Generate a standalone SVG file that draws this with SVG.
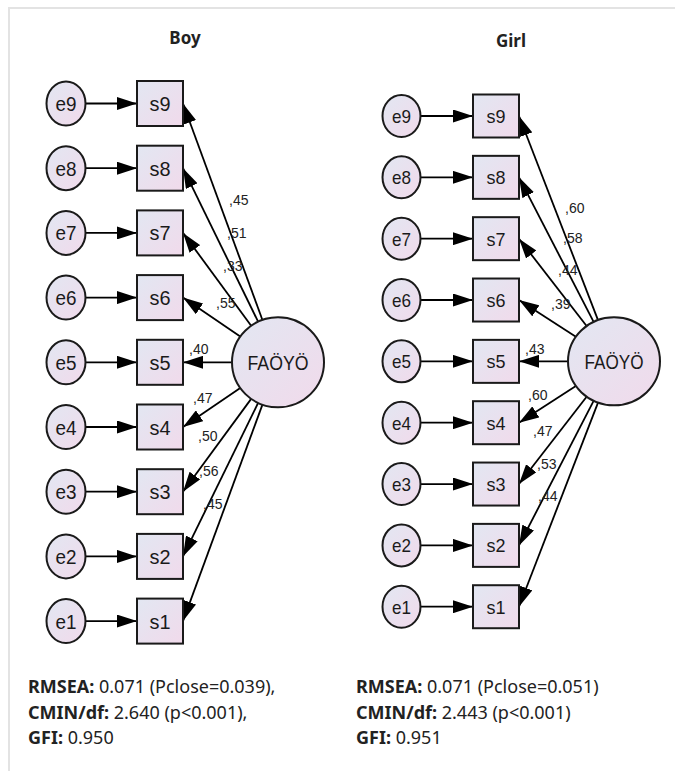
<svg xmlns="http://www.w3.org/2000/svg" width="675" height="771" viewBox="0 0 675 771">
<defs>
<linearGradient id="g" x1="0" y1="0" x2="1" y2="1">
<stop offset="0" stop-color="#E2E7F2"/>
<stop offset="1" stop-color="#F1DAEB"/>
</linearGradient>
<marker id="ah" markerUnits="userSpaceOnUse" markerWidth="20" markerHeight="13" refX="20" refY="6.5" orient="auto" viewBox="0 0 20 13">
<path d="M0,0 L20,6.5 L0,13 z" fill="#000"/>
</marker>
<style>
.n{fill:url(#g);stroke:#1a1a1a;stroke-width:2}
.t{font-family:"Liberation Sans",Arial,sans-serif;font-size:20px;fill:#1a1a1a;text-anchor:middle}
.u{font-family:"Liberation Sans",Arial,sans-serif;font-size:19px;fill:#1a1a1a;text-anchor:middle}
.f{font-family:"Liberation Sans",Arial,sans-serif;font-size:21px;fill:#1a1a1a;text-anchor:middle}
.c line{stroke:#000;stroke-width:1.8;marker-end:url(#ah)}
.l{font-family:"Liberation Sans",Arial,sans-serif;font-size:14px;fill:#222}
.h{font-family:"Noto Sans","Open Sans",sans-serif;font-size:17px;font-weight:bold;fill:#222;text-anchor:middle}
.s{font-family:"Noto Sans","Open Sans",sans-serif;font-size:18px;fill:#222}
.s tspan.b{font-weight:bold}
</style>
</defs>
<rect width="675" height="771" fill="#fff"/>
<path d="M9,771 V8 H675" fill="none" stroke="#e3e3e3" stroke-width="2"/>

<text class="h" x="185" y="44">Boy</text>
<text class="h" x="511" y="47">Girl</text>

<!-- Boy connectors -->
<g id="boy-connectors" class="c">
<line x1="85.5" y1="103.5" x2="137" y2="103.5"/>
<line x1="85.5" y1="168.2" x2="137" y2="168.2"/>
<line x1="85.5" y1="232.9" x2="137" y2="232.9"/>
<line x1="85.5" y1="297.6" x2="137" y2="297.6"/>
<line x1="85.5" y1="362.3" x2="137" y2="362.3"/>
<line x1="85.5" y1="427" x2="137" y2="427"/>
<line x1="85.5" y1="491.7" x2="137" y2="491.7"/>
<line x1="85.5" y1="556.4" x2="137" y2="556.4"/>
<line x1="85.5" y1="621.1" x2="137" y2="621.1"/>
<line x1="262.45" y1="319.95" x2="183" y2="103.5"/>
<line x1="258.13" y1="321.71" x2="183" y2="168.2"/>
<line x1="251.16" y1="325.74" x2="183" y2="232.9"/>
<line x1="240.24" y1="336.59" x2="183" y2="297.6"/>
<line x1="232" y1="362.3" x2="183" y2="362.3"/>
<line x1="240.24" y1="388.01" x2="183" y2="427"/>
<line x1="251.16" y1="398.86" x2="183" y2="491.7"/>
<line x1="258.13" y1="402.89" x2="183" y2="556.4"/>
<line x1="262.45" y1="404.65" x2="183" y2="621.1"/>
</g>

<g id="boy-labels">
<text class="l" x="229" y="205">,45</text>
<text class="l" x="227" y="238">,51</text>
<text class="l" x="223" y="271">,33</text>
<text class="l" x="216" y="308">,55</text>
<text class="l" x="189" y="354">,40</text>
<text class="l" x="193" y="403">,47</text>
<text class="l" x="198" y="441">,50</text>
<text class="l" x="199" y="476">,56</text>
<text class="l" x="203" y="509">,45</text>
</g>

<!-- Boy nodes -->
<g id="boy-e9"><ellipse class="n" cx="66" cy="103.5" rx="19.5" ry="22"/><text class="t" x="66" y="111" textLength="21" lengthAdjust="spacingAndGlyphs">e9</text></g>
<g id="boy-e8"><ellipse class="n" cx="66" cy="168.2" rx="19.5" ry="22"/><text class="t" x="66" y="175.7" textLength="21" lengthAdjust="spacingAndGlyphs">e8</text></g>
<g id="boy-e7"><ellipse class="n" cx="66" cy="232.9" rx="19.5" ry="22"/><text class="t" x="66" y="240.4" textLength="21" lengthAdjust="spacingAndGlyphs">e7</text></g>
<g id="boy-e6"><ellipse class="n" cx="66" cy="297.6" rx="19.5" ry="22"/><text class="t" x="66" y="305.1" textLength="21" lengthAdjust="spacingAndGlyphs">e6</text></g>
<g id="boy-e5"><ellipse class="n" cx="66" cy="362.3" rx="19.5" ry="22"/><text class="t" x="66" y="369.8" textLength="21" lengthAdjust="spacingAndGlyphs">e5</text></g>
<g id="boy-e4"><ellipse class="n" cx="66" cy="427" rx="19.5" ry="22"/><text class="t" x="66" y="434.5" textLength="21" lengthAdjust="spacingAndGlyphs">e4</text></g>
<g id="boy-e3"><ellipse class="n" cx="66" cy="491.7" rx="19.5" ry="22"/><text class="t" x="66" y="499.2" textLength="21" lengthAdjust="spacingAndGlyphs">e3</text></g>
<g id="boy-e2"><ellipse class="n" cx="66" cy="556.4" rx="19.5" ry="22"/><text class="t" x="66" y="563.9" textLength="21" lengthAdjust="spacingAndGlyphs">e2</text></g>
<g id="boy-e1"><ellipse class="n" cx="66" cy="621.1" rx="19.5" ry="22"/><text class="t" x="66" y="628.6" textLength="21" lengthAdjust="spacingAndGlyphs">e1</text></g>

<g id="boy-s9"><rect class="n" x="137" y="81" width="46" height="45"/><text class="t" x="160" y="111" textLength="21" lengthAdjust="spacingAndGlyphs">s9</text></g>
<g id="boy-s8"><rect class="n" x="137" y="145.7" width="46" height="45"/><text class="t" x="160" y="175.7" textLength="21" lengthAdjust="spacingAndGlyphs">s8</text></g>
<g id="boy-s7"><rect class="n" x="137" y="210.4" width="46" height="45"/><text class="t" x="160" y="240.4" textLength="21" lengthAdjust="spacingAndGlyphs">s7</text></g>
<g id="boy-s6"><rect class="n" x="137" y="275.1" width="46" height="45"/><text class="t" x="160" y="305.1" textLength="21" lengthAdjust="spacingAndGlyphs">s6</text></g>
<g id="boy-s5"><rect class="n" x="137" y="339.8" width="46" height="45"/><text class="t" x="160" y="369.8" textLength="21" lengthAdjust="spacingAndGlyphs">s5</text></g>
<g id="boy-s4"><rect class="n" x="137" y="404.5" width="46" height="45"/><text class="t" x="160" y="434.5" textLength="21" lengthAdjust="spacingAndGlyphs">s4</text></g>
<g id="boy-s3"><rect class="n" x="137" y="469.2" width="46" height="45"/><text class="t" x="160" y="499.2" textLength="21" lengthAdjust="spacingAndGlyphs">s3</text></g>
<g id="boy-s2"><rect class="n" x="137" y="533.9" width="46" height="45"/><text class="t" x="160" y="563.9" textLength="21" lengthAdjust="spacingAndGlyphs">s2</text></g>
<g id="boy-s1"><rect class="n" x="137" y="598.6" width="46" height="45"/><text class="t" x="160" y="628.6" textLength="21" lengthAdjust="spacingAndGlyphs">s1</text></g>

<g id="boy-faoyo"><ellipse class="n" cx="278" cy="362.3" rx="46" ry="45"/><text class="f" x="278" y="369.8" textLength="61" lengthAdjust="spacingAndGlyphs">FAÖYÖ</text></g>

<!-- Girl connectors -->
<g id="girl-connectors" class="c">
<line x1="420.5" y1="116" x2="473" y2="116"/>
<line x1="420.5" y1="177.34" x2="473" y2="177.34"/>
<line x1="420.5" y1="238.68" x2="473" y2="238.68"/>
<line x1="420.5" y1="300.02" x2="473" y2="300.02"/>
<line x1="420.5" y1="361.36" x2="473" y2="361.36"/>
<line x1="420.5" y1="422.7" x2="473" y2="422.7"/>
<line x1="420.5" y1="484.04" x2="473" y2="484.04"/>
<line x1="420.5" y1="545.38" x2="473" y2="545.38"/>
<line x1="420.5" y1="606.72" x2="473" y2="606.72"/>
<line x1="598.02" y1="320.09" x2="519" y2="116"/>
<line x1="593.63" y1="321.91" x2="519" y2="177.34"/>
<line x1="586.62" y1="326" x2="519" y2="238.68"/>
<line x1="575.87" y1="336.74" x2="519" y2="300.02"/>
<line x1="568" y1="361.36" x2="519" y2="361.36"/>
<line x1="575.87" y1="385.98" x2="519" y2="422.7"/>
<line x1="586.62" y1="396.72" x2="519" y2="484.04"/>
<line x1="593.63" y1="400.81" x2="519" y2="545.38"/>
<line x1="598.02" y1="402.63" x2="519" y2="606.72"/>
</g>

<g id="girl-labels">
<text class="l" x="565" y="213">,60</text>
<text class="l" x="563" y="243">,58</text>
<text class="l" x="558" y="275">,44</text>
<text class="l" x="551" y="309">,39</text>
<text class="l" x="525" y="354">,43</text>
<text class="l" x="528" y="400">,60</text>
<text class="l" x="533" y="436">,47</text>
<text class="l" x="537" y="469">,53</text>
<text class="l" x="538" y="501">,44</text>
</g>

<!-- Girl nodes -->
<g id="girl-e9"><ellipse class="n" cx="401.5" cy="116" rx="19" ry="21"/><text class="u" x="401.5" y="123" textLength="19" lengthAdjust="spacingAndGlyphs">e9</text></g>
<g id="girl-e8"><ellipse class="n" cx="401.5" cy="177.34" rx="19" ry="21"/><text class="u" x="401.5" y="184.34" textLength="19" lengthAdjust="spacingAndGlyphs">e8</text></g>
<g id="girl-e7"><ellipse class="n" cx="401.5" cy="238.68" rx="19" ry="21"/><text class="u" x="401.5" y="245.68" textLength="19" lengthAdjust="spacingAndGlyphs">e7</text></g>
<g id="girl-e6"><ellipse class="n" cx="401.5" cy="300.02" rx="19" ry="21"/><text class="u" x="401.5" y="307.02" textLength="19" lengthAdjust="spacingAndGlyphs">e6</text></g>
<g id="girl-e5"><ellipse class="n" cx="401.5" cy="361.36" rx="19" ry="21"/><text class="u" x="401.5" y="368.36" textLength="19" lengthAdjust="spacingAndGlyphs">e5</text></g>
<g id="girl-e4"><ellipse class="n" cx="401.5" cy="422.7" rx="19" ry="21"/><text class="u" x="401.5" y="429.7" textLength="19" lengthAdjust="spacingAndGlyphs">e4</text></g>
<g id="girl-e3"><ellipse class="n" cx="401.5" cy="484.04" rx="19" ry="21"/><text class="u" x="401.5" y="491.04" textLength="19" lengthAdjust="spacingAndGlyphs">e3</text></g>
<g id="girl-e2"><ellipse class="n" cx="401.5" cy="545.38" rx="19" ry="21"/><text class="u" x="401.5" y="552.38" textLength="19" lengthAdjust="spacingAndGlyphs">e2</text></g>
<g id="girl-e1"><ellipse class="n" cx="401.5" cy="606.72" rx="19" ry="21"/><text class="u" x="401.5" y="613.72" textLength="19" lengthAdjust="spacingAndGlyphs">e1</text></g>

<g id="girl-s9"><rect class="n" x="473" y="94.5" width="46" height="43"/><text class="u" x="496" y="123" textLength="19" lengthAdjust="spacingAndGlyphs">s9</text></g>
<g id="girl-s8"><rect class="n" x="473" y="155.84" width="46" height="43"/><text class="u" x="496" y="184.34" textLength="19" lengthAdjust="spacingAndGlyphs">s8</text></g>
<g id="girl-s7"><rect class="n" x="473" y="217.18" width="46" height="43"/><text class="u" x="496" y="245.68" textLength="19" lengthAdjust="spacingAndGlyphs">s7</text></g>
<g id="girl-s6"><rect class="n" x="473" y="278.52" width="46" height="43"/><text class="u" x="496" y="307.02" textLength="19" lengthAdjust="spacingAndGlyphs">s6</text></g>
<g id="girl-s5"><rect class="n" x="473" y="339.86" width="46" height="43"/><text class="u" x="496" y="368.36" textLength="19" lengthAdjust="spacingAndGlyphs">s5</text></g>
<g id="girl-s4"><rect class="n" x="473" y="401.2" width="46" height="43"/><text class="u" x="496" y="429.7" textLength="19" lengthAdjust="spacingAndGlyphs">s4</text></g>
<g id="girl-s3"><rect class="n" x="473" y="462.54" width="46" height="43"/><text class="u" x="496" y="491.04" textLength="19" lengthAdjust="spacingAndGlyphs">s3</text></g>
<g id="girl-s2"><rect class="n" x="473" y="523.88" width="46" height="43"/><text class="u" x="496" y="552.38" textLength="19" lengthAdjust="spacingAndGlyphs">s2</text></g>
<g id="girl-s1"><rect class="n" x="473" y="585.22" width="46" height="43"/><text class="u" x="496" y="613.72" textLength="19" lengthAdjust="spacingAndGlyphs">s1</text></g>

<g id="girl-faoyo"><ellipse class="n" cx="614" cy="361.36" rx="46" ry="44"/><text class="f" x="614" y="368.8" textLength="59" lengthAdjust="spacingAndGlyphs">FAÖYÖ</text></g>

<!-- Fit statistics -->
<g id="boy-stats">
<text class="s" x="28" y="693"><tspan class="b">RMSEA:</tspan> 0.071 (Pclose=0.039),</text>
<text class="s" x="28" y="719"><tspan class="b">CMIN/df:</tspan> 2.640 (p&lt;0.001),</text>
<text class="s" x="28" y="744"><tspan class="b">GFI:</tspan> 0.950</text>
</g>
<g id="girl-stats">
<text class="s" x="356" y="693"><tspan class="b">RMSEA:</tspan> 0.071 (Pclose=0.051)</text>
<text class="s" x="356" y="719"><tspan class="b">CMIN/df:</tspan> 2.443 (p&lt;0.001)</text>
<text class="s" x="356" y="744"><tspan class="b">GFI:</tspan> 0.951</text>
</g>
</svg>
